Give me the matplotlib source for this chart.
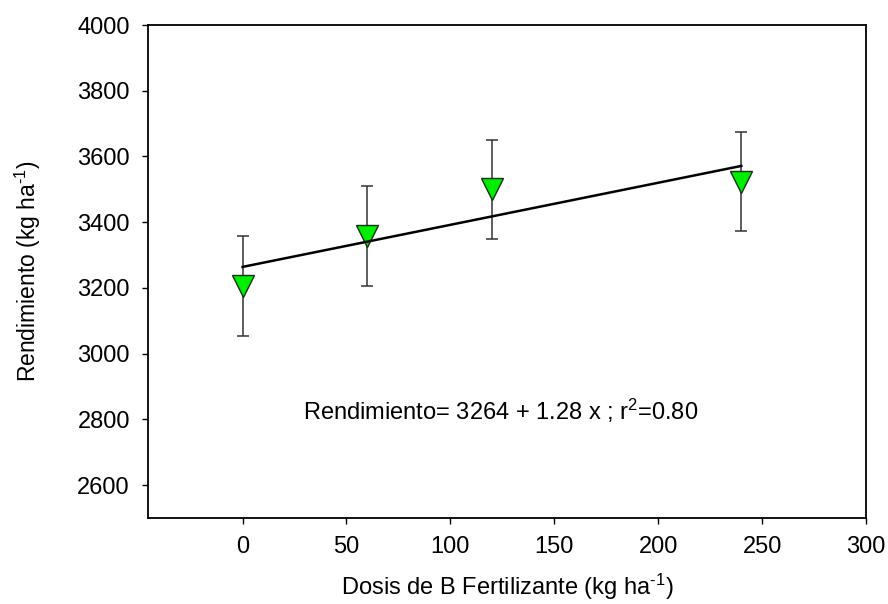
import matplotlib
matplotlib.use("Agg")
import matplotlib.pyplot as plt
import numpy as np

# Data
dosis = [0, 60, 120, 240]
rendimiento = [3207, 3358, 3500, 3523]
error = [152, 152, 151, 151]
intercept = 3264
slope = 1.28
r2 = 0.80
xticks = [0, 50, 100, 150, 200, 250, 300]
yticks = [2600, 2800, 3000, 3200, 3400, 3600, 3800, 4000]

plt.rcParams['font.family'] = ['Liberation Sans', 'DejaVu Sans']
plt.rcParams['mathtext.fontset'] = 'custom'
plt.rcParams['mathtext.rm'] = 'Liberation Sans'
plt.rcParams['mathtext.it'] = 'Liberation Sans'
plt.rcParams['mathtext.default'] = 'regular'

fig = plt.figure(figsize=(8.88, 6.04), dpi=100)
ax = fig.add_axes([0.1667, 0.1424, 0.8085, 0.8162])

ax.errorbar(dosis, rendimiento, yerr=error, fmt='none', ecolor='#333333',
            elinewidth=1.1, capsize=4, capthick=1.1, zorder=2)
ax.plot(dosis, rendimiento, linestyle='none', marker='v', markersize=16,
        markerfacecolor='#00ee00', markeredgecolor='#143014', markeredgewidth=1.0,
        zorder=3)
xfit = np.array([dosis[0], dosis[-1]])
ax.plot(xfit, intercept + slope * xfit, color='black', linewidth=1.8, zorder=4)

ax.text(29, 2826, f"Rendimiento= {intercept} + {slope:.2f} x ; r$^2$={r2:.2f}",
        fontsize=17, ha='left', va='center')

ax.set_xlim(-45.5, 300)
ax.set_ylim(2500, 4000)
ax.set_xticks(xticks)
ax.set_yticks(yticks)
ax.tick_params(direction='out', length=4, width=1.0, labelsize=17, pad=9)
for s in ax.spines.values():
    s.set_linewidth(1.3)
    s.set_color('black')

ax.set_xlabel(r"Dosis de B Fertilizante (kg ha$^{\text{-}1}$)", fontsize=17, labelpad=10)
ax.set_ylabel(r"Rendimiento (kg ha$^{\text{-}1}$)", fontsize=16.5, labelpad=25)

fig.savefig("out.png", dpi=100)
